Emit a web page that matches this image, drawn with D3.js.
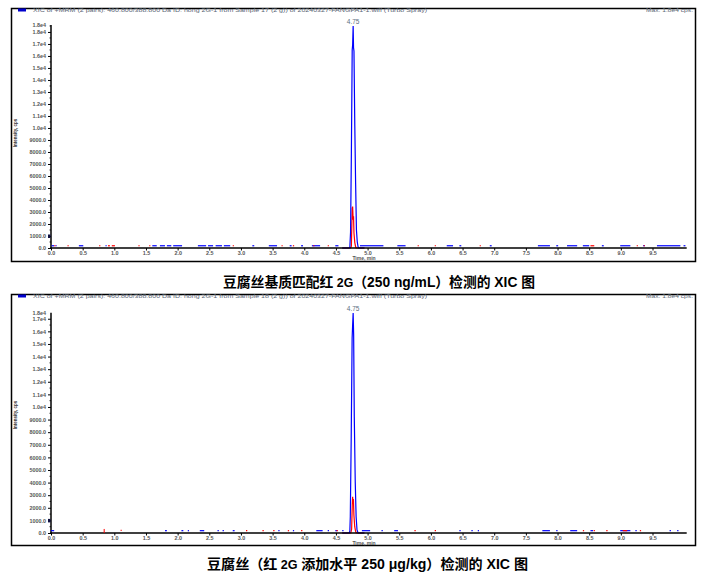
<!DOCTYPE html>
<html><head><meta charset="utf-8">
<script src="https://cdn.jsdelivr.net/npm/d3@7"></script>
<style>body{margin:0;background:#fff}svg{display:block}</style>
</head><body><svg id="c" width="710" height="573"></svg>
<script>
// ---------- data ----------
const xTickValues = [0,0.5,1,1.5,2,2.5,3,3.5,4,4.5,5,5.5,6,6.5,7,7.5,8,8.5,9,9.5];
const xTickLabels = ["0.0","0.5","1.0","1.5","2.0","2.5","3.0","3.5","4.0","4.5","5.0","5.5","6.0","6.5","7.0","7.5","8.0","8.5","9.0","9.5"];
const yTickValues = [0,1000,2000,3000,4000,5000,6000,7000,8000,9000,10000,11000,12000,13000,14000,15000,16000,17000,18000];
const yTickLabels = ["0.0","1000.0","2000.0","3000.0","4000.0","5000.0","6000.0","7000.0","8000.0","9000.0","1.0e4","1.1e4","1.2e4","1.3e4","1.4e4","1.5e4","1.6e4","1.7e4","1.8e4"];
const xDomain = [0, 10.04];
const yMax1 = 18580, yMax2 = 17480;
const yMaxLabel1 = "1.8e4", yMaxLabel2 = "1.8e4";
const header1 = "XIC of +MRM (2 pairs): 460.800/388.800 Da ID: hong 2G-1 from Sample 17 (2 g)) of 20240327-FANGPA1-1.wiff (Turbo Spray)";
const header2 = "XIC of +MRM (2 pairs): 460.800/388.800 Da ID: hong 2G-1 from Sample 18 (2 g)) of 20240327-FANGPA1-1.wiff (Turbo Spray)";
const maxText1 = "Max. 1.8e4 cps.", maxText2 = "Max. 1.8e4 cps.";
const peakLabel1 = "4.75", peakLabel2 = "4.75";
const xTitle = "Time, min", yTitle = "Intensity, cps";
const caption1 = ["豆腐丝基质匹配红", " 2G", "（250 ng/mL）检测的 XIC 图"];
const caption2 = ["豆腐丝（红", " 2G ", "添加水平 250 μg/kg）检测的 XIC 图"];

// chromatogram peaks [time, cps]
const blueTrace1 = [[4.60,0],[4.71,0],[4.720,60],[4.731,1300],[4.744,7900],[4.757,16500],[4.764,16900],[4.772,18500],[4.778,16700],[4.785,16400],[4.798,10200],[4.811,5400],[4.824,1500],[4.837,500],[4.850,100],[4.865,0],[4.95,0]];
const redTrace1  = [[4.60,0],[4.732,0],[4.744,150],[4.757,3300],[4.764,3450],[4.772,2350],[4.778,2650],[4.785,1250],[4.798,450],[4.811,100],[4.82,0],[4.95,0]];
const blueTrace2 = [[4.60,0],[4.71,0],[4.720,150],[4.727,1290],[4.741,7380],[4.756,15480],[4.764,16500],[4.772,17450],[4.780,15710],[4.790,9230],[4.805,4070],[4.819,1290],[4.833,240],[4.85,0],[4.95,0]];
const redTrace2  = [[4.60,0],[4.735,0],[4.748,300],[4.758,2200],[4.764,2880],[4.771,2300],[4.776,2700],[4.784,1430],[4.797,500],[4.81,150],[4.82,0],[4.95,0]];
const apexIndex1 = 7, apexIndex2 = 7;

// baseline noise [tStart, tEnd, cps]
const blueNoise1 = [[0.01,0.05,120],[0.07,0.09,120],[0.44,0.51,120],[0.86,0.88,120],[1.60,1.67,120],[1.72,1.80,120],[1.83,1.90,120],[1.93,2.07,120],[2.32,2.45,120],[2.48,2.56,120],[2.60,2.70,120],[2.73,2.83,120],[3.18,3.21,120],[3.44,3.57,120],[3.77,3.80,120],[3.95,3.98,120],[4.12,4.25,120],[4.49,4.54,120],[4.88,5.25,120],[5.47,5.60,120],[6.25,6.35,120],[6.45,6.48,120],[6.93,6.96,120],[7.69,7.88,120],[7.98,8.01,120],[8.15,8.31,120],[8.40,8.50,120],[8.70,8.73,120],[8.99,9.15,120],[9.35,9.38,120],[9.57,9.94,120],[9.99,10.02,120]];
const redNoise1 = [[0.05,0.07,120],[0.26,0.28,120],[0.76,0.78,120],[0.90,0.93,120],[0.96,1.01,120],[1.38,1.40,120],[1.55,1.57,120],[2.87,2.89,120],[3.64,3.66,120],[3.82,3.84,120],[4.14,4.16,120],[4.37,4.39,120],[5.79,5.81,120],[6.06,6.08,120],[6.77,6.79,120],[8.52,8.58,120],[9.25,9.27,120],[9.36,9.38,120]];
const blueNoise2 = [[0.00,0.05,120],[1.80,1.83,120],[2.06,2.09,120],[2.16,2.18,120],[2.35,2.42,120],[2.63,2.65,120],[2.71,2.73,120],[2.87,2.90,120],[3.59,3.61,120],[3.82,3.84,120],[4.19,4.29,120],[4.37,4.39,120],[4.49,4.52,120],[4.60,4.62,120],[4.91,5.04,120],[5.22,5.24,120],[5.42,5.48,120],[6.45,6.47,120],[6.64,6.66,120],[6.74,6.76,120],[7.76,7.88,120],[7.98,8.00,120],[8.20,8.31,120],[8.52,8.56,120],[8.99,9.15,120],[9.23,9.25,120],[9.77,9.79,120],[9.89,9.91,120]];
const redNoise2 = [[1.10,1.11,150],[3.08,3.10,120],[3.34,3.36,120],[3.51,3.53,120],[3.74,3.76,120],[3.95,3.97,120],[4.51,4.53,120],[5.74,5.76,120],[6.06,6.08,120],[8.40,8.42,120],[8.57,8.59,120],[8.77,8.79,120],[9.03,9.10,120],[9.30,9.32,120]];
const redSpikes2 = [[0.84,320]];

// ---------- drawing ----------
const svg = d3.select("#c");
const BLUE = "#0000ff", RED = "#ff0000";
const LATIN = "'Liberation Sans', Arial, sans-serif";
const LABEL = "#555";

function drawPanel(o) {
  const g = svg.append("g");
  g.append("rect").attr("x", 11.5).attr("y", o.boxTop).attr("width", 684).attr("height", o.boxBottom - o.boxTop)
    .attr("fill", "none").attr("stroke", "#000").attr("stroke-width", 1.5);
  g.append("rect").attr("x", 18).attr("y", o.boxTop).attr("width", 8).attr("height", 3).attr("fill", "#0000cc");
  g.append("text").attr("x", 33).attr("y", o.boxTop + 3.8).attr("font-family", LATIN).attr("font-size", 5.2)
    .attr("fill", "#5a6675").attr("textLength", 394).attr("lengthAdjust", "spacingAndGlyphs").text(o.header);
  g.append("text").attr("x", 693).attr("y", o.boxTop + 3.8).attr("text-anchor", "end").attr("font-family", LATIN).attr("font-size", 5.2)
    .attr("fill", "#5a6675").attr("textLength", 47).attr("lengthAdjust", "spacingAndGlyphs").text(o.maxText);

  const x = d3.scaleLinear().domain(xDomain).range([51, 686.7]);
  const y = d3.scaleLinear().domain([0, o.yMax]).range([o.yBottom, o.yTop]);

  const line = d3.line().x(d => x(d[0])).y(d => y(d[1]));
  g.append("path").datum(o.red).attr("d", line).attr("fill", "none").attr("stroke", RED).attr("stroke-width", 1.2);
  g.append("path").datum(o.blue).attr("d", line).attr("fill", "none").attr("stroke", BLUE).attr("stroke-width", 1.2);

  const ya = d3.axisLeft(y).tickValues(yTickValues.filter(v => v <= o.yMax)).tickSize(3)
    .tickFormat(v => yTickLabels[yTickValues.indexOf(v)]);
  const yg = g.append("g").attr("transform", "translate(51,0)").call(ya);
  yg.select(".domain").remove();
  yg.selectAll(".tick line").attr("stroke", "#000").attr("stroke-width", 1);
  yg.selectAll(".tick text").attr("font-family", LATIN).attr("font-size", 5.4).attr("font-weight", "bold").attr("fill", LABEL).attr("x", -5);
  const yMinor = d3.range(500, o.yMax, 1000);
  g.selectAll(null).data(yMinor).join("line").attr("x1", 49.5).attr("x2", 51).attr("y1", d => y(d)).attr("y2", d => y(d)).attr("stroke", "#000").attr("stroke-width", 0.8);
  g.append("text").attr("x", 46).attr("y", o.yTop + 1.8).attr("text-anchor", "end").attr("font-family", LATIN).attr("font-size", 5.4)
    .attr("font-weight", "bold").attr("fill", LABEL).text(o.yMaxLabel);
  g.append("line").attr("x1", 51).attr("x2", 51).attr("y1", o.yTop).attr("y2", o.yBottom + 0.75).attr("stroke", "#000").attr("stroke-width", 1.5);

  const xa = d3.axisBottom(x).tickValues(xTickValues).tickSize(2.5).tickFormat(v => xTickLabels[xTickValues.indexOf(v)]);
  const xg = g.append("g").attr("transform", `translate(0,${o.yBottom})`).call(xa);
  xg.select(".domain").remove();
  xg.selectAll(".tick line").attr("stroke", "#000").attr("stroke-width", 1);
  xg.selectAll(".tick text").attr("font-family", LATIN).attr("font-size", 5.4).attr("font-weight", "bold").attr("fill", LABEL).attr("y", 3).attr("dy", "0.71em");
  g.append("line").attr("x1", 50.25).attr("x2", 686.7).attr("y1", o.yBottom).attr("y2", o.yBottom).attr("stroke", "#000").attr("stroke-width", 1.5);

  g.selectAll(null).data(o.blueNoise).join("line")
    .attr("x1", d => x(d[0])).attr("x2", d => Math.max(x(d[1]), x(d[0]) + 1)).attr("y1", d => y(d[2]) - 0.8).attr("y2", d => y(d[2]) - 0.8)
    .attr("stroke", BLUE).attr("stroke-width", 1.2);
  g.selectAll(null).data(o.redNoise).join("line")
    .attr("x1", d => x(d[0])).attr("x2", d => Math.max(x(d[1]), x(d[0]) + 1)).attr("y1", d => y(d[2]) - 0.8).attr("y2", d => y(d[2]) - 0.8)
    .attr("stroke", RED).attr("stroke-width", 1.2);
  g.selectAll(null).data(o.redSpikes || []).join("line")
    .attr("x1", d => x(d[0])).attr("x2", d => x(d[0])).attr("y1", d => y(0)).attr("y2", d => y(d[1]))
    .attr("stroke", RED).attr("stroke-width", 1);

  g.append("rect").attr("x", 48).attr("y", y(1000) - 1.5).attr("width", 2.5).attr("height", 3.5).attr("fill", "#101040");

  const apex = o.blue[o.apexIndex];
  g.append("text").attr("x", x(apex[0])).attr("y", o.yTop - 1.5).attr("text-anchor", "middle").attr("font-family", LATIN)
    .attr("font-size", 6.5).attr("fill", "#5d6e80").text(o.peakLabel);

  g.append("text").attr("x", 364).attr("y", o.yBottom + 11.5).attr("text-anchor", "middle").attr("font-family", LATIN)
    .attr("font-size", 5).attr("font-weight", "bold").attr("fill", LABEL).text(xTitle);
  g.append("text").attr("transform", `translate(17,${o.yTitleY}) rotate(-90)`).attr("text-anchor", "middle").attr("font-family", LATIN)
    .attr("font-size", 4.5).attr("font-weight", "bold").attr("fill", "#333").text(yTitle);

  const cap = svg.append("text").attr("x", o.capX).attr("y", o.capY).attr("font-family", "'Liberation Sans', 'Noto Sans CJK SC', sans-serif")
    .attr("font-size", 14).attr("font-weight", "bold").attr("fill", "#000");
  o.caption.forEach((s, i) => {
    const t = cap.append("tspan").text(s);
    if (i === 1) t.attr("font-size", 12.5);
  });
  cap.attr("textLength", o.capW).attr("lengthAdjust", "spacingAndGlyphs");
}

drawPanel({boxTop: 8.5, boxBottom: 261.5, yTop: 25, yBottom: 248, yMax: yMax1, yMaxLabel: yMaxLabel1,
  header: header1, maxText: maxText1, peakLabel: peakLabel1, apexIndex: apexIndex1, yTitleY: 133,
  blue: blueTrace1, red: redTrace1, blueNoise: blueNoise1, redNoise: redNoise1,
  caption: caption1, capX: 223, capY: 287, capW: 312});
drawPanel({boxTop: 294.5, boxBottom: 545.5, yTop: 312.7, yBottom: 533, yMax: yMax2, yMaxLabel: yMaxLabel2,
  header: header2, maxText: maxText2, peakLabel: peakLabel2, apexIndex: apexIndex2, yTitleY: 415,
  blue: blueTrace2, red: redTrace2, blueNoise: blueNoise2, redNoise: redNoise2, redSpikes: redSpikes2,
  caption: caption2, capX: 207, capY: 569, capW: 321});
</script></body></html>
